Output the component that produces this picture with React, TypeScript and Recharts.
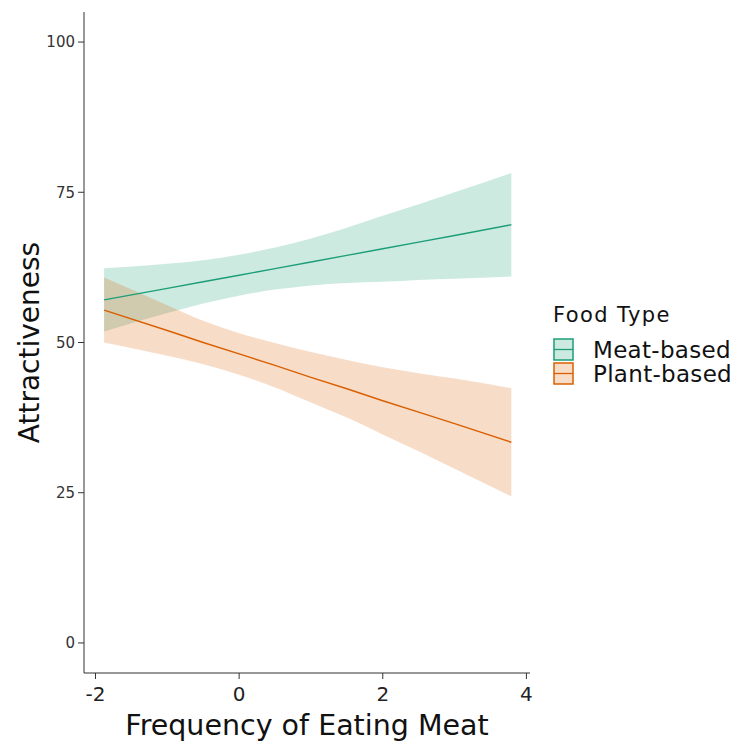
import React from 'react';
import { ComposedChart, Area, Line, XAxis, YAxis, Legend, Label } from 'recharts';

// frequency of eating meat (standardised) where the fit / bands were read
const freq = [-1.88, -1, -0.5, 0, 0.5, 1, 1.5, 2, 2.5, 3, 3.79];

const meatFit = [57.1, 59.0, 60.1, 61.2, 62.3, 63.4, 64.5, 65.6, 66.7, 67.8, 69.6];
const meatLower = [51.85, 54.9, 56.5, 57.8, 58.8, 59.5, 59.9, 60.1, 60.4, 60.6, 61.0];
const meatUpper = [62.35, 63.1, 63.7, 64.6, 65.8, 67.3, 69.1, 71.1, 73.0, 75.0, 78.2];

const plantFit = [55.4, 52.0, 50.0, 48.1, 46.2, 44.2, 42.3, 40.3, 38.4, 36.5, 33.4];
const plantLower = [50.0, 47.8, 46.4, 44.65, 42.5, 40.0, 37.5, 34.7, 31.9, 29.0, 24.4];
const plantUpper = [60.8, 56.2, 53.6, 51.55, 49.9, 48.4, 47.1, 45.9, 44.9, 44.0, 42.4];

const xTicks = [-2, 0, 2, 4];
const yTicks = [0, 25, 50, 75, 100];

const foodTypes = ['Meat-based', 'Plant-based'];
const COLORS = ['#1b9e77', '#d95f02'];

const FONT = '"DejaVu Sans", sans-serif';

const data = freq.map((x, i) => ({
  x,
  meat: meatFit[i],
  meatBand: [meatLower[i], meatUpper[i]],
  plant: plantFit[i],
  plantBand: [plantLower[i], plantUpper[i]],
}));

const FoodLegend = () => (
  <svg width={195} height={100} style={{ fontFamily: FONT }}>
    <text x={8} y={27} fontSize={21} fill="#111" letterSpacing={1.4}>Food Type</text>
    {foodTypes.map((name, i) => (
      <g key={name}>
        <rect x={9} y={44 + i * 24} width={19} height={21} fill={COLORS[i]} fillOpacity={0.22}
          stroke={COLORS[i]} strokeWidth={1.5} />
        <line x1={9} x2={28} y1={54.5 + i * 24} y2={54.5 + i * 24} stroke={COLORS[i]} strokeWidth={1.3} />
        <text x={48} y={63 + i * 24} fontSize={23} fill="#111" letterSpacing={0.3}>{name}</text>
      </g>
    ))}
  </svg>
);

const YTitle = (props: any) => {
  const vb = props.viewBox;
  const cx = 39;
  const cy = vb.y + vb.height / 2;
  return (
    <text x={cx} y={cy} transform={`rotate(-90 ${cx} ${cy})`} textAnchor="middle"
      fontSize={28} fill="#111" style={{ fontFamily: FONT }}>
      Attractiveness
    </text>
  );
};

export default function App() {
  return (
    <div style={{ position: 'absolute', left: 0, top: 0, width: 740, height: 742, background: '#fff' }}>
      <ComposedChart width={740} height={742} data={data}
        margin={{ top: 12, right: 210, bottom: 0, left: 0 }}
        style={{ fontFamily: FONT }}>
        <XAxis type="number" dataKey="x" domain={[-2.16, 4.05]} ticks={xTicks} height={69}
          allowDataOverflow stroke="#333" tickSize={6} tickMargin={8}
          tick={{ fontSize: 20, fill: '#222', fontFamily: FONT }}>
          <Label value="Frequency of Eating Meat" position="insideBottom" offset={7}
            style={{ fontSize: 28.5, fill: '#111', fontFamily: FONT }} />
        </XAxis>
        <YAxis type="number" domain={[-5, 105]} ticks={yTicks} width={84} allowDataOverflow
          stroke="#333" tickSize={6} tickMargin={3}
          tick={{ fontSize: 15, fill: '#333', fontFamily: FONT }}>
          <Label content={YTitle} />
        </YAxis>
        <Area dataKey="meatBand" type="monotone" stroke="none" fill={COLORS[0]} fillOpacity={0.22}
          isAnimationActive={false} legendType="none" />
        <Area dataKey="plantBand" type="monotone" stroke="none" fill={COLORS[1]} fillOpacity={0.22}
          isAnimationActive={false} legendType="none" />
        <Line dataKey="meat" type="linear" stroke={COLORS[0]} strokeWidth={1.4} dot={false}
          isAnimationActive={false} />
        <Line dataKey="plant" type="linear" stroke={COLORS[1]} strokeWidth={1.4} dot={false}
          isAnimationActive={false} />
        <Legend layout="vertical" align="center" verticalAlign="middle" content={FoodLegend}
          wrapperStyle={{ left: 545, top: 295, width: 195, height: 100 }} />
      </ComposedChart>
    </div>
  );
}
